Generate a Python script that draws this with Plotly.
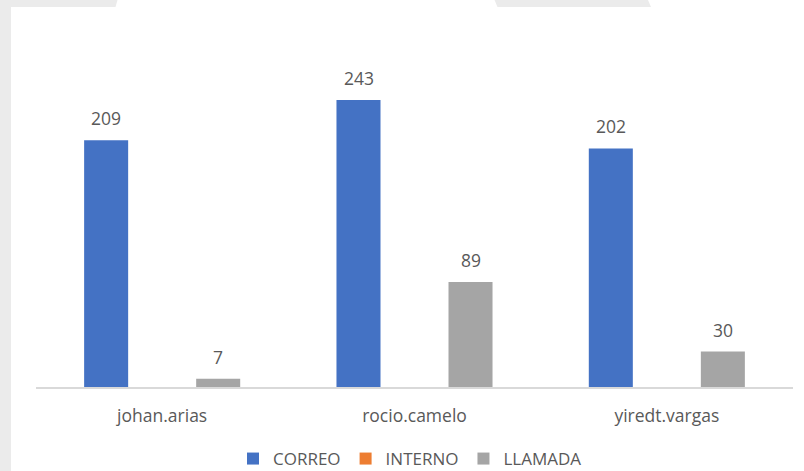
import plotly.graph_objects as go

categories = ["johan.arias", "rocio.camelo", "yiredt.vargas"]
correo = [209, 243, 202]
interno = [0, 0, 0]
llamada = [7, 89, 30]

series = [
    ("CORREO", correo, "#4472C4", True),
    ("INTERNO", interno, "#ED7D31", False),
    ("LLAMADA", llamada, "#A5A5A5", True),
]

FONT = "Open Sans"
TXT = "#595959"

fig = go.Figure()
for name, vals, color, _ in series:
    fig.add_trace(go.Bar(name=name, x=categories, y=vals,
                         marker=dict(color=color, line=dict(width=0))))

# data labels
offsets = {"CORREO": -56, "INTERNO": 0, "LLAMADA": 56}
annotations = []
for name, vals, color, labelled in series:
    if not labelled:
        continue
    for c, v in zip(categories, vals):
        annotations.append(dict(x=c, y=v, text=str(v), showarrow=False,
                                xshift=offsets[name], yshift=22,
                                xanchor="center", yanchor="middle",
                                font=dict(family=FONT, size=17.5, color=TXT)))

# plot-area pixel geometry helpers for background decoration
L, R, T, B = 36, 11, 33, 84
W, H = 804, 471
pw, ph = W - L - R, H - T - B
def px(x):
    return (x - L) / pw
def py(y):
    return (H - B - y) / ph

gray = "#EBEBEB"
shapes = [
    dict(type="path", xref="paper", yref="paper",
         path=f"M{px(0)},{py(0)} L{px(117.5)},{py(0)} L{px(115.5)},{py(7)} L{px(11)},{py(7)} "
              f"L{px(11)},{py(471)} L{px(0)},{py(471)} Z",
         fillcolor=gray, line=dict(width=0), layer="below"),
    dict(type="path", xref="paper", yref="paper",
         path=f"M{px(494.5)},{py(0)} L{px(648)},{py(0)} L{px(651)},{py(7)} L{px(497.5)},{py(7)} Z",
         fillcolor=gray, line=dict(width=0), layer="below"),
]

fig.update_layout(
    width=W, height=H,
    margin=dict(l=L, r=R, t=T, b=B, autoexpand=False),
    paper_bgcolor="white", plot_bgcolor="white",
    barmode="group", bargap=0.334, bargroupgap=0.214,
    font=dict(family=FONT, size=17.5, color=TXT),
    xaxis=dict(showline=True, linecolor="#D9D9D9", linewidth=1.5,
               showgrid=False, zeroline=False, ticks="",
               ticklabelstandoff=12,
               tickfont=dict(family=FONT, size=17.5, color=TXT)),
    yaxis=dict(visible=False, range=[0, ph / 1.181], showgrid=False, zeroline=False),
    showlegend=True,
    legend=dict(orientation="h", x=px(233), xanchor="left", y=py(459), yanchor="middle",
                font=dict(family=FONT, size=17, color=TXT), itemwidth=30,
                bgcolor="rgba(0,0,0,0)"),
    annotations=annotations,
    shapes=shapes,
)

fig.write_html(
    "out.html",
    config={"displayModeBar": False},
    post_script="document.body.style.margin='0';document.body.style.overflow='hidden';",
)
